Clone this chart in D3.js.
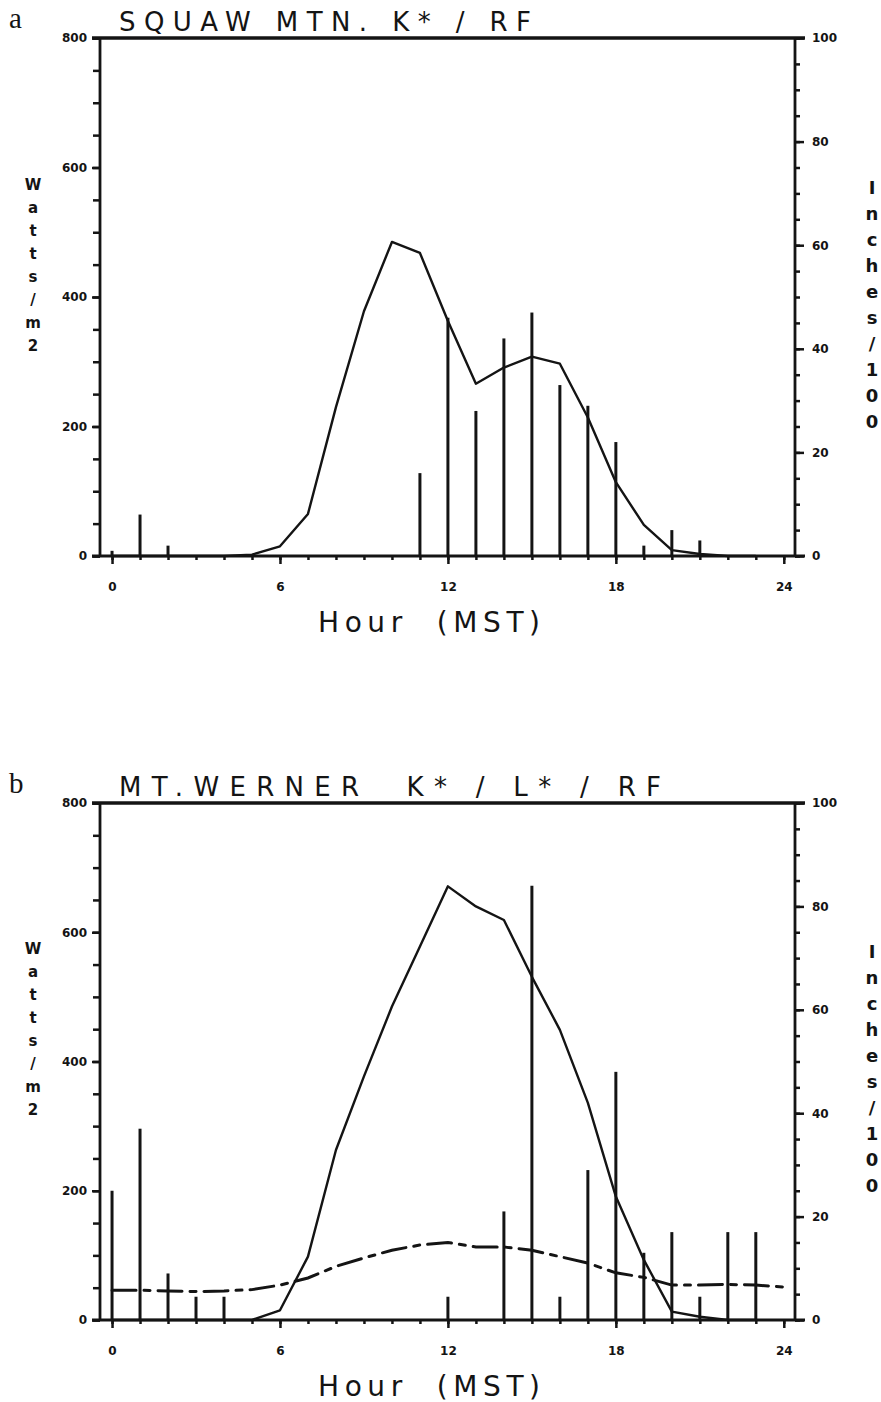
<!DOCTYPE html>
<html>
<head>
<meta charset="utf-8">
<script src="https://cdn.jsdelivr.net/npm/d3@7"></script>
<style>
  html, body { margin: 0; padding: 0; background: #ffffff; }
  svg { display: block; }
  .tick text { font-family: "DejaVu Sans", sans-serif; font-weight: bold; }
</style>
</head>
<body>
<svg id="chart" width="881" height="1402"></svg>
<script>
// ---------------- DATA ----------------
const hoursK = d3.range(0, 24);
const kStarA = [0,0,0,0,0,2,15,65,230,378,485,468,363,266,291,308,297,214,114,48,9,3,0,0];
const rfHoursA = [0,1,2,11,12,13,14,15,16,17,18,19,20,21];
const rfA = [1,8,2,16,46,28,42,47,33,29,22,2,5,3];

const kStarB = [0,0,0,0,0,0,15,98,263,377,485,578,671,640,619,531,449,336,191,93,13,5,0,0];
const hoursL = d3.range(0, 25);
const lStarB = [46,46,45,44,45,47,54,65,83,96,108,116,120,113,113,108,98,88,73,66,54,54,55,54,51];
const rfHoursB = [0,1,2,3,4,12,14,15,16,17,18,19,20,21,22,23];
const rfB = [25,37,9,4.5,4.5,4.5,21,84,4.5,29,48,13,17,4.5,17,17];

const xTickLabels = [0, 6, 12, 18, 24];
const leftTickLabels = [0, 200, 400, 600, 800];
const rightTickLabels = [0, 20, 40, 60, 80, 100];

const panels = [
  { letter: "a", title: "SQUAW MTN. K* / RF", kStar: kStarA, lStar: null, rfHours: rfHoursA, rf: rfA,
    top: 38, bottom: 556, titleW: 412 },
  { letter: "b", title: "MT.WERNER  K* / L* / RF", kStar: kStarB, lStar: lStarB, rfHours: rfHoursB, rf: rfB,
    top: 803, bottom: 1320, titleW: 542 }
];

// ---------------- DRAW ----------------
const svg = d3.select("#chart");
const ink = "#141414";
const left = 100, right = 795;

const x = d3.scaleLinear().domain([-0.43, 24.4]).range([left, right]);

panels.forEach(p => {
  const g = svg.append("g");
  const yL = d3.scaleLinear().domain([0, 800]).range([p.bottom, p.top]);
  const yR = d3.scaleLinear().domain([0, 100]).range([p.bottom, p.top]);

  // panel letter
  g.append("text").attr("x", 9).attr("y", p.top - 10)
    .attr("font-family", "Liberation Serif, serif").attr("font-size", 29)
    .attr("fill", ink).text(p.letter);

  // title
  g.append("text").attr("x", 119).attr("y", p.top - 7)
    .attr("font-family", "DejaVu Sans, sans-serif").attr("font-size", 26)
    .attr("textLength", p.titleW).attr("lengthAdjust", "spacing")
    .attr("fill", ink).attr("xml:space", "preserve").text(p.title);

  // left axis minor + major
  const axL = g.append("g").attr("transform", `translate(${left},0)`);
  axL.call(d3.axisLeft(yL).tickValues(d3.range(0, 801, 50)).tickSize(7).tickFormat(""));
  const axLM = g.append("g").attr("transform", `translate(${left},0)`);
  axLM.call(d3.axisLeft(yL).tickValues(leftTickLabels).tickSize(8).tickPadding(5).tickFormat(d3.format("d")));

  // right axis
  const axR = g.append("g").attr("transform", `translate(${right},0)`);
  axR.call(d3.axisRight(yR).tickValues(d3.range(0, 101, 5)).tickSize(5).tickFormat(""));
  const axRM = g.append("g").attr("transform", `translate(${right},0)`);
  axRM.call(d3.axisRight(yR).tickValues(rightTickLabels).tickSize(9).tickPadding(8).tickFormat(d3.format("d")));

  // bottom axis
  const axB = g.append("g").attr("transform", `translate(0,${p.bottom})`);
  axB.call(d3.axisBottom(x).tickValues(d3.range(0, 25, 1)).tickSize(4).tickFormat(""));
  const axBM = g.append("g").attr("transform", `translate(0,${p.bottom})`);
  axBM.call(d3.axisBottom(x).tickValues(xTickLabels).tickSize(8).tickPadding(18).tickFormat(d3.format("d")));

  [axL, axLM, axR, axRM, axB, axBM].forEach(a => {
    a.selectAll(".domain").remove();
    a.selectAll(".tick line").attr("stroke", ink).attr("stroke-width", 2.5);
    a.selectAll(".tick text").attr("fill", ink).attr("font-size", 12);
  });

  // frame lines: left, right, bottom, thick top
  g.append("line").attr("x1", left).attr("x2", left).attr("y1", p.top).attr("y2", p.bottom)
    .attr("stroke", ink).attr("stroke-width", 2.8);
  g.append("line").attr("x1", right).attr("x2", right).attr("y1", p.top).attr("y2", p.bottom)
    .attr("stroke", ink).attr("stroke-width", 2.8);
  g.append("line").attr("x1", left - 8).attr("x2", right + 10).attr("y1", p.bottom).attr("y2", p.bottom)
    .attr("stroke", ink).attr("stroke-width", 2.8);
  g.append("line").attr("x1", left - 8).attr("x2", right + 10).attr("y1", p.top).attr("y2", p.top)
    .attr("stroke", ink).attr("stroke-width", 3.4);

  // RF bars (right axis)
  g.selectAll(".rf").data(p.rf).enter().append("line")
    .attr("x1", (d, i) => x(p.rfHours[i])).attr("x2", (d, i) => x(p.rfHours[i]))
    .attr("y1", yR(0)).attr("y2", d => yR(d))
    .attr("stroke", ink).attr("stroke-width", 3);

  // K* solid line
  const line = d3.line().x((d, i) => x(i)).y(d => yL(d));
  g.append("path").datum(p.kStar).attr("d", line)
    .attr("fill", "none").attr("stroke", ink).attr("stroke-width", 2.4)
    .attr("stroke-linejoin", "round");

  // L* dash-dot line
  if (p.lStar) {
    g.append("path").datum(p.lStar).attr("d", line)
      .attr("fill", "none").attr("stroke", ink).attr("stroke-width", 3)
      .attr("stroke-dasharray", "24,8,6,8").attr("stroke-linecap", "round");
  }

  // axis titles
  g.append("text").attr("x", 318).attr("y", p.bottom + 76)
    .attr("font-family", "DejaVu Sans, sans-serif").attr("font-size", 28)
    .attr("textLength", 222).attr("lengthAdjust", "spacing")
    .attr("fill", ink).attr("xml:space", "preserve").text("Hour  (MST)");

  const mid = (p.top + p.bottom) / 2;
  // left vertical stacked label
  const lChars = "Watts/m2".split("");
  g.append("g").selectAll("text").data(lChars).enter().append("text")
    .attr("x", 33).attr("y", (d, i) => mid - 32 - (lChars.length - 1) * 23 / 2 + i * 23)
    .attr("text-anchor", "middle").attr("dominant-baseline", "central")
    .attr("font-family", "DejaVu Sans, sans-serif").attr("font-weight", "bold").attr("font-size", 15)
    .attr("fill", ink).text(d => d);

  // right vertical stacked label
  const rChars = "Inches/100".split("");
  g.append("g").selectAll("text").data(rChars).enter().append("text")
    .attr("x", 872).attr("y", (d, i) => mid + 7 - (rChars.length - 1) * 26 / 2 + i * 26)
    .attr("text-anchor", "middle").attr("dominant-baseline", "central")
    .attr("font-family", "DejaVu Sans, sans-serif").attr("font-weight", "bold").attr("font-size", 18)
    .attr("fill", ink).text(d => d);
});
</script>
</body>
</html>
